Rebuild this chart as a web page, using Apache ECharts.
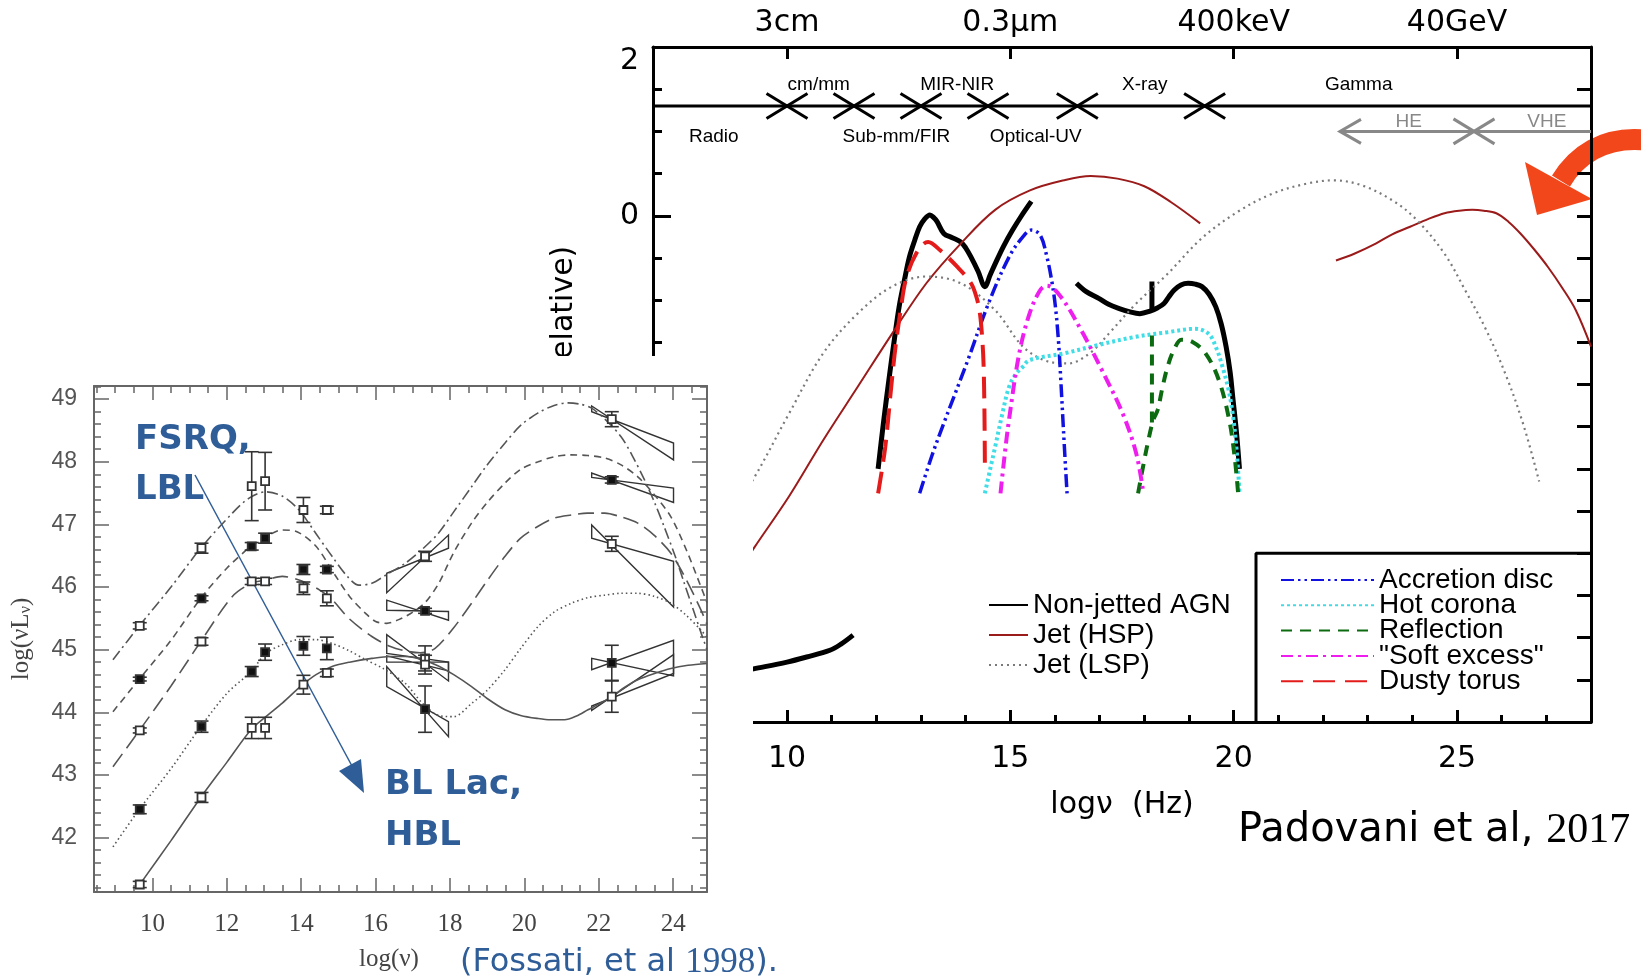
<!DOCTYPE html>
<html>
<head>
<meta charset="utf-8">
<title>AGN SEDs</title>
<script src="https://cdn.jsdelivr.net/npm/echarts@6/dist/echarts.min.js"></script>
<style>
  html, body { margin: 0; padding: 0; background: #fff; }
  #sed, #blazar { position: absolute; left: 0; top: 0; width: 1641px; height: 977px; }
  #mask { position: absolute; left: 0; top: 356px; width: 753px; height: 621px; background: #fff; }
</style>
</head>
<body>
<div id="sed"></div>
<div id="mask"></div>
<div id="blazar"></div>
<script>
// ---------- Main SED panel: log nu (Hz) vs log nu L_nu (relative) ----------
const sedXLabels = [10, 15, 20, 25];
const sedTopLabels = ['3cm', '0.3\u03bcm', '400keV', '40GeV'];
const sedYLabels = [2, 0, -2, -4, -6];

// non-jetted AGN total emission (three pieces + Fe edge)
const agnIR = [[12.04,-3.0],[12.16,-2.45],[12.28,-1.95],[12.4,-1.48],[12.51,-1.08],[12.63,-0.76],[12.74,-0.49],[12.86,-0.29],[12.97,-0.13],[13.08,-0.04],[13.2,0.01],[13.28,-0.02],[13.36,-0.07],[13.51,-0.21],[13.7,-0.26],[13.89,-0.31],[14.0,-0.38],[14.12,-0.49],[14.28,-0.66],[14.43,-0.84],[14.55,-0.7],[14.66,-0.57],[14.85,-0.36],[15.05,-0.17],[15.25,0.0],[15.47,0.17]];
const agnX = [[16.48,-0.8],[16.7,-0.9],[16.98,-0.98],[17.2,-1.05],[17.44,-1.1],[17.68,-1.14],[17.9,-1.16],[18.13,-1.13],[18.3,-1.09],[18.44,-1.04],[18.55,-0.96],[18.67,-0.88],[18.82,-0.82],[18.98,-0.8],[19.14,-0.81],[19.29,-0.84],[19.45,-0.93],[19.6,-1.08],[19.72,-1.28],[19.83,-1.55],[19.92,-1.85],[19.98,-2.15],[20.06,-2.55],[20.13,-3.0]];
const agnRadio = [[8.5,-5.45],[9.25,-5.37],[10.0,-5.29],[10.44,-5.23],[10.96,-5.15],[11.2,-5.08],[11.48,-4.97]];
const agnEdge = [[18.17,-1.13],[18.17,-0.78]];

// jetted sources
const hspSync = [[7.6,-5.25],[8.5,-4.55],[9.27,-3.93],[10.04,-3.33],[10.81,-2.66],[11.58,-2.03],[12.35,-1.4],[13.12,-0.8],[13.89,-0.33],[14.66,0.07],[15.44,0.3],[16.2,0.42],[16.8,0.47],[17.4,0.44],[18.0,0.35],[18.6,0.16],[19.25,-0.09]];
const hspIC = [[22.29,-0.53],[22.7,-0.45],[23.18,-0.33],[23.55,-0.22],[23.95,-0.13],[24.35,-0.04],[24.72,0.03],[25.05,0.06],[25.34,0.07],[25.6,0.06],[25.88,0.03],[26.15,-0.07],[26.42,-0.21],[26.73,-0.4],[27.04,-0.61],[27.35,-0.85],[27.66,-1.12],[28.0,-1.55]];
const lsp = [[8.5,-3.75],[9.27,-3.1],[10.04,-2.35],[10.81,-1.63],[11.58,-1.16],[12.35,-0.84],[13.12,-0.72],[13.89,-0.8],[14.66,-1.12],[15.28,-1.55],[15.8,-1.72],[16.3,-1.75],[16.8,-1.62],[17.2,-1.4],[17.8,-1.05],[18.5,-0.7],[19.3,-0.26],[20.1,0.05],[20.86,0.26],[21.63,0.38],[22.25,0.42],[22.87,0.36],[23.56,0.18],[24.1,-0.05],[24.72,-0.45],[25.18,-0.88],[25.65,-1.35],[26.11,-1.91],[26.5,-2.5],[26.84,-3.15]];

// AGN components
const disc = [[12.97,-3.29],[13.24,-2.85],[13.51,-2.46],[14.05,-1.71],[14.51,-1.04],[14.97,-0.49],[15.28,-0.25],[15.47,-0.17],[15.67,-0.23],[15.82,-0.49],[15.93,-0.78],[16.01,-1.08],[16.08,-1.5],[16.13,-1.95],[16.21,-2.74],[16.27,-3.29]];
const corona = [[14.43,-3.29],[14.55,-3.0],[14.66,-2.74],[14.82,-2.35],[14.97,-2.03],[15.12,-1.88],[15.28,-1.79],[15.43,-1.71],[16.21,-1.63],[16.98,-1.53],[17.75,-1.44],[18.52,-1.38],[19.13,-1.34],[19.44,-1.4],[19.62,-1.58],[19.75,-1.79],[19.88,-2.05],[19.98,-2.35],[20.07,-2.8],[20.13,-3.29]];
const reflection = [[17.86,-3.29],[17.98,-2.95],[18.09,-2.66],[18.2,-2.42],[18.3,-2.3],[18.4,-2.05],[18.52,-1.79],[18.67,-1.58],[18.83,-1.47],[19.06,-1.49],[19.37,-1.63],[19.67,-1.95],[19.9,-2.42],[20.02,-2.85],[20.1,-3.29]];
const reflEdge = [[18.17,-2.45],[18.17,-1.4]];
const softExcess = [[14.78,-3.29],[14.87,-2.85],[14.97,-2.42],[15.2,-1.63],[15.43,-1.16],[15.67,-0.88],[15.82,-0.83],[16.13,-0.96],[16.59,-1.36],[17.05,-1.83],[17.52,-2.35],[17.82,-2.82],[17.98,-3.29]];
const torus = [[12.04,-3.29],[12.2,-2.74],[12.32,-2.1],[12.43,-1.55],[12.55,-1.1],[12.66,-0.76],[12.89,-0.45],[13.16,-0.31],[13.43,-0.41],[13.82,-0.61],[14.12,-0.8],[14.25,-0.98],[14.32,-1.16],[14.37,-1.45],[14.4,-1.75],[14.42,-2.3],[14.43,-2.94]];

// wavebands along the top
const bandLevel = 1.3;
const bandBreaks = [10, 11.5, 13, 14.5, 16.5, 19.35];
const bandNames = [['Radio',8.36,0.94],['cm/mm',10.71,1.55],['Sub-mm/FIR',12.45,0.94],['MIR-NIR',13.81,1.55],['Optical-UV',15.57,0.94],['X-ray',18.01,1.55],['Gamma',22.8,1.55]];
const gammaLevel = 1.0;
const gammaStart = 22.38;
const gammaBreak = 25.38;
const gammaNames = [['HE',23.92,1.11],['VHE',27.01,1.11]];
const legendBox = [[20.5,-6],[20.5,-4],[28,-4]];

// ---------- Inset: blazar sequence ----------
const nuBands = [9.66, 11.32, 12.67, 13.03, 14.06, 14.69, 17.33, 22.35];
const lumBin1 = [45.38, 46.62, 47.61, 47.69, 47.23, 47.23, 46.49, 48.68];
const lumBin2 = [44.53, 45.82, 46.65, 46.78, 46.28, 46.28, 45.62, 47.71];
const lumBin3 = [43.71, 45.13, 46.09, 46.09, 45.98, 45.82, 44.86, 46.69];
const lumBin4 = [42.45, 43.77, 44.65, 44.96, 45.06, 45.02, 44.05, 44.79];
const lumBin5 = [41.25, 42.64, 43.75, 43.75, 44.44, 44.63, 44.76, 44.25];
const errBin1 = [0.05, 0.08, 0.55, 0.46, 0.2, 0.06, 0.08, 0.12];
const errBin2 = [0.03, 0.04, 0.06, 0.08, 0.08, 0.05, 0.04, 0.05];
const errBin3 = [0.04, 0.06, 0.05, 0.05, 0.1, 0.12, 0.2, 0.12];
const errBin4 = [0.07, 0.09, 0.08, 0.13, 0.15, 0.18, 0.37, 0.28];
const errBin5 = [0.05, 0.08, 0.17, 0.17, 0.15, 0.06, 0.15, 0.25];
const filledBin = [0, 1, 0, 1, 0];

// spectral-slope bow ties: [x left, x right, left low, left high, right low, right high]
const xrayBows = [[16.3,17.96,45.91,46.22,46.62,46.83],[16.3,17.96,45.63,45.79,45.47,45.61],[16.3,17.96,44.94,45.24,44.50,44.80],[16.3,17.96,44.41,44.73,43.61,43.85],[16.3,17.96,44.80,44.90,44.66,44.80]];
const gammaBows = [[21.81,24.01,48.80,48.89,48.03,48.30],[21.81,24.01,47.75,47.82,47.35,47.58],[21.81,24.01,46.78,46.99,45.68,46.41],[21.81,24.01,44.68,44.86,44.58,45.15],[21.81,24.01,44.03,44.10,44.62,44.92]];

// model SEDs for the five luminosity bins
const sedBin1 = [[8.94,44.84],[9.65,45.38],[10.5,46.0],[11.3,46.62],[12.15,47.18],[12.6,47.42],[13.05,47.52],[13.5,47.45],[13.94,47.23],[14.4,46.85],[14.83,46.49],[15.24,46.17],[15.55,46.03],[15.9,46.06],[16.3,46.2],[16.8,46.38],[17.25,46.6],[17.69,46.86],[18.1,47.2],[18.58,47.6],[19.0,47.95],[19.48,48.3],[19.9,48.58],[20.37,48.78],[20.8,48.9],[21.17,48.94],[21.5,48.92],[21.8,48.86],[22.2,48.66],[22.6,48.4],[22.9,48.1],[23.23,47.71],[23.5,47.35],[23.76,46.96],[24.05,46.5],[24.3,46.06],[24.55,45.62],[24.79,45.2],[24.91,45.0]];
const sedBin2 = [[8.94,44.01],[9.65,44.53],[10.5,45.15],[11.3,45.82],[12.0,46.3],[12.65,46.65],[13.1,46.82],[13.49,46.91],[13.9,46.88],[14.4,46.65],[14.9,46.2],[15.3,45.85],[15.73,45.58],[16.0,45.45],[16.3,45.42],[16.7,45.5],[17.0,45.6],[17.33,45.75],[17.69,46.05],[18.1,46.55],[18.58,47.02],[19.0,47.35],[19.48,47.66],[19.9,47.88],[20.37,48.0],[20.8,48.08],[21.26,48.11],[21.7,48.1],[22.16,48.06],[22.6,47.95],[23.05,47.76],[23.5,47.47],[23.94,47.12],[24.35,46.6],[24.75,46.0],[24.91,45.75]];
const sedBin3 = [[8.94,43.13],[9.65,43.71],[10.5,44.42],[11.3,45.13],[12.15,45.85],[12.66,46.06],[13.1,46.12],[13.49,46.17],[14.0,46.1],[14.5,45.95],[14.83,45.8],[15.28,45.5],[15.9,45.21],[16.4,45.05],[16.8,44.98],[17.2,44.95],[17.6,45.02],[18.1,45.35],[18.58,45.74],[19.0,46.1],[19.48,46.49],[19.9,46.78],[20.37,46.97],[20.8,47.1],[21.26,47.15],[21.7,47.18],[22.16,47.18],[22.6,47.12],[23.05,47.02],[23.5,46.82],[23.94,46.54],[24.35,46.12],[24.75,45.63],[24.91,45.4]];
const sedBin4 = [[8.94,41.85],[9.65,42.45],[10.5,43.1],[11.3,43.77],[12.0,44.3],[12.65,44.65],[13.05,44.94],[13.5,45.08],[13.94,45.16],[14.4,45.16],[14.83,45.1],[15.3,44.98],[15.73,44.84],[16.2,44.7],[16.8,44.46],[17.25,44.15],[17.69,43.95],[18.1,43.93],[18.58,44.14],[19.0,44.35],[19.48,44.68],[19.9,45.02],[20.37,45.37],[20.8,45.6],[21.26,45.74],[21.7,45.83],[22.16,45.87],[22.6,45.9],[23.05,45.9],[23.5,45.85],[23.94,45.74],[24.35,45.55],[24.75,45.31],[24.91,45.2]];
const sedBin5 = [[9.6,41.2],[10.5,41.95],[11.3,42.64],[12.0,43.2],[12.65,43.72],[13.05,43.93],[13.5,44.15],[14.0,44.42],[14.4,44.6],[14.83,44.73],[15.3,44.8],[15.9,44.86],[16.4,44.89],[16.8,44.89],[17.25,44.84],[17.69,44.74],[18.1,44.6],[18.58,44.41],[19.0,44.22],[19.48,44.04],[19.9,43.95],[20.37,43.9],[20.7,43.88],[21.08,43.88],[21.4,43.94],[21.71,44.04],[22.0,44.13],[22.35,44.25],[22.7,44.4],[23.05,44.52],[23.5,44.62],[23.94,44.7],[24.4,44.75],[24.91,44.78]];

const insetXLabels = [10, 12, 14, 16, 18, 20, 22, 24];
const insetYLabels = [42, 43, 44, 45, 46, 47, 48, 49];

// ---------- helpers ----------
function steps(a, b, s, skip) {
  const out = [];
  for (let v = a; v <= b + 1e-9; v += s) {
    const r = +v.toFixed(2);
    if (!skip || skip.indexOf(r) < 0) out.push(r);
  }
  return out;
}
const SANS = 'DejaVu Sans';
const HELV = 'Liberation Sans';
const SERIF = 'Liberation Serif';

function curve(name, data, color, width, type, smooth) {
  return {
    name, type: 'line', data, symbol: 'none', smooth: smooth === undefined ? 0.35 : smooth,
    lineStyle: { color, width, type: type || 'solid', cap: 'butt' },
    itemStyle: { color }, silent: true, animation: false
  };
}

// ---------- main SED chart ----------
const sed = echarts.init(document.getElementById('sed'));
const breakRender = (params, api) => {
  const p = api.coord([api.value(0), api.value(1)]);
  const w = 20.5, h = 12.5, c = api.value(2) ? '#888' : '#000';
  return { type: 'group', children: [
    { type: 'line', shape: { x1: p[0] - w, y1: p[1] - h, x2: p[0] + w, y2: p[1] + h }, style: { stroke: c, lineWidth: 3 } },
    { type: 'line', shape: { x1: p[0] - w, y1: p[1] + h, x2: p[0] + w, y2: p[1] - h }, style: { stroke: c, lineWidth: 3 } }
  ]};
};
const labelRender = (font, color) => (params, api) => {
  const p = api.coord([api.value(1), api.value(2)]);
  return { type: 'text', x: p[0], y: p[1], style: {
    text: api.value(0), fontSize: font, fontFamily: HELV, fill: color,
    align: 'center', verticalAlign: 'middle', textAlign: 'center', textVerticalAlign: 'middle' } };
};
const blackLine = { onZero: false, lineStyle: { color: '#000', width: 3 } };
const blackTick = { color: '#000', width: 3 };

sed.setOption({
  animation: false,
  grid: { left: 653, top: 47, width: 938, height: 675, containLabel: false, outerBoundsMode: 'none' },
  xAxis: [
    { type: 'value', min: 7, max: 28, position: 'bottom', axisLine: blackLine,
      axisTick: { inside: true, length: 12, customValues: sedXLabels, lineStyle: blackTick },
      axisLabel: { customValues: sedXLabels, fontSize: 30, fontFamily: SANS, color: '#000', margin: 22 },
      splitLine: { show: false },
      name: 'log\u03bd  (Hz)', nameLocation: 'middle', nameGap: 68,
      nameTextStyle: { fontSize: 30, fontFamily: SANS, color: '#000' } },
    { type: 'value', min: 7, max: 28, position: 'bottom', axisLine: { show: false, onZero: false },
      axisTick: { inside: true, length: 7, customValues: steps(8, 27, 1, sedXLabels), lineStyle: blackTick },
      axisLabel: { show: false }, splitLine: { show: false } },
    { type: 'value', min: 7, max: 28, position: 'top', axisLine: blackLine,
      axisTick: { inside: true, length: 12, customValues: sedXLabels, lineStyle: blackTick },
      axisLabel: { customValues: sedXLabels, fontSize: 30, fontFamily: SANS, color: '#000', margin: 9,
        formatter: v => sedTopLabels[sedXLabels.indexOf(v)] },
      splitLine: { show: false } }
  ],
  yAxis: [
    { type: 'value', min: -6, max: 2, position: 'left', axisLine: blackLine,
      axisTick: { inside: true, length: 18, customValues: sedYLabels, lineStyle: blackTick },
      axisLabel: { customValues: sedYLabels, fontSize: 30, fontFamily: SANS, color: '#000', margin: 14,
        formatter: v => v === 2 ? '{lo|2}' : String(v),
        rich: { lo: { fontSize: 30, fontFamily: SANS, color: '#000', padding: [28, 0, 0, 0] } } },
      splitLine: { show: false },
      name: 'log \u03bdL\u03bd (relative)', nameLocation: 'middle', nameGap: 74, nameRotate: 90,
      nameTextStyle: { fontSize: 30, fontFamily: SANS, color: '#000', padding: [0, 0, 0, 26] } },
    { type: 'value', min: -6, max: 2, position: 'left', axisLine: { show: false, onZero: false },
      axisTick: { inside: true, length: 9, customValues: steps(-5.5, 1.5, 0.5, sedYLabels), lineStyle: blackTick },
      axisLabel: { show: false }, splitLine: { show: false } },
    { type: 'value', min: -6, max: 2, position: 'right', axisLine: blackLine,
      axisTick: { inside: true, length: 14, customValues: steps(-6, 2, 0.5), lineStyle: blackTick },
      axisLabel: { show: false }, splitLine: { show: false } }
  ],
  legend: [
    { data: ['Non-jetted AGN', 'Jet (HSP)', 'Jet (LSP)'], orient: 'vertical', left: 983, top: 586,
      itemWidth: 39, itemHeight: 14, itemGap: 2, selectedMode: false,
      itemStyle: { opacity: 0 },
      textStyle: { fontSize: 28, fontFamily: HELV, color: '#000', lineHeight: 28 } },
    { data: ['Accretion disc', 'Hot corona', 'Reflection', '"Soft excess"', 'Dusty torus'], orient: 'vertical', left: 1275, top: 561,
      itemWidth: 93, itemHeight: 12, itemGap: -2.7, selectedMode: false,
      itemStyle: { opacity: 0 },
      textStyle: { fontSize: 28, fontFamily: HELV, color: '#000', lineHeight: 24 } }
  ],
  series: [
    curve('Non-jetted AGN', agnIR, '#000', 5),
    curve('Non-jetted AGN', agnX, '#000', 5),
    curve('Non-jetted AGN', agnRadio, '#000', 5),
    curve('Non-jetted AGN', agnEdge, '#000', 5, 'solid', false),
    curve('Jet (HSP)', hspSync, '#9b1b1b', 2),
    curve('Jet (HSP)', hspIC, '#9b1b1b', 2),
    curve('Jet (LSP)', lsp, '#7a7a7a', 2.2, [2, 4]),
    curve('Accretion disc', disc, '#1212e0', 3.5, [13, 4, 2.5, 4, 2.5, 4]),
    curve('Hot corona', corona, '#3fdde6', 4, [3, 3]),
    curve('Reflection', reflection, '#0c6a10', 4, [11, 8]),
    curve('Reflection', reflEdge, '#0c6a10', 4, [11, 8], false),
    curve('"Soft excess"', softExcess, '#ee1fee', 4, [12, 5, 3, 5]),
    curve('Dusty torus', torus, '#e41b1b', 4, [22, 10]),
    curve('bands', [[7, bandLevel], [28, bandLevel]], '#000', 3, 'solid', false),
    curve('gamma sub-bands', [[gammaStart, gammaLevel], [28, gammaLevel]], '#888', 3, 'solid', false),
    curve('legend frame', legendBox, '#000', 3, 'solid', false),
    { type: 'custom', name: 'band breaks', silent: true, renderItem: breakRender,
      data: bandBreaks.map(b => [b, bandLevel, 0]).concat([[gammaBreak, gammaLevel, 1]]) },
    { type: 'custom', name: 'gamma arrow', silent: true, data: [[gammaStart, gammaLevel]],
      renderItem: (params, api) => {
        const p = api.coord([api.value(0), api.value(1)]);
        return { type: 'polyline', shape: { points: [[p[0] + 21, p[1] - 12], [p[0], p[1]], [p[0] + 21, p[1] + 12]] },
          style: { stroke: '#888', lineWidth: 3, fill: null } };
      } },
    { type: 'custom', name: 'band names', silent: true, renderItem: labelRender(19, '#000'),
      dimensions: ['label', 'x', 'y'], encode: { x: 1, y: 2 }, data: bandNames },
    { type: 'custom', name: 'gamma names', silent: true, renderItem: labelRender(19, '#888'),
      dimensions: ['label', 'x', 'y'], encode: { x: 1, y: 2 }, data: gammaNames }
  ],
  graphic: [
    { type: 'text', left: 1238, top: 810, silent: true,
      style: { text: '{a|Padovani et al, }{b|2017}',
        rich: { a: { fontSize: 40, fontFamily: SANS, fill: '#000' }, b: { fontSize: 42, fontFamily: SERIF, fill: '#000' } } } },
    { type: 'bezierCurve', silent: true,
      shape: { x1: 1645, y1: 140, cpx1: 1603, cpy1: 136, cpx2: 1576, cpy2: 156, x2: 1561, y2: 181 },
      style: { stroke: '#f2461b', lineWidth: 21, fill: null } },
    { type: 'polygon', silent: true,
      shape: { points: [[1525, 162], [1592, 199], [1537, 215]] },
      style: { fill: '#f2461b' } }
  ]
});

// ---------- inset chart ----------
const blazar = echarts.init(document.getElementById('blazar'));
const bins = [lumBin1, lumBin2, lumBin3, lumBin4, lumBin5];
const errs = [errBin1, errBin2, errBin3, errBin4, errBin5];
const pointData = [];
bins.forEach((row, i) => row.forEach((y, j) => pointData.push([nuBands[j], y, errs[i][j], filledBin[i]])));

const INK = '#333';
const LINE = '#555';
const pointRender = (params, api) => {
  const x = api.value(0), y = api.value(1), e = api.value(2), filled = api.value(3);
  const c = api.coord([x, y]);
  const t = api.coord([x, y + e])[1], b = api.coord([x, y - e])[1];
  const cap = 7, s = 4;
  const ls = { stroke: INK, lineWidth: 1.6 };
  return { type: 'group', children: [
    { type: 'line', shape: { x1: c[0], y1: t, x2: c[0], y2: b }, style: ls },
    { type: 'line', shape: { x1: c[0] - cap, y1: t, x2: c[0] + cap, y2: t }, style: ls },
    { type: 'line', shape: { x1: c[0] - cap, y1: b, x2: c[0] + cap, y2: b }, style: ls },
    { type: 'rect', shape: { x: c[0] - s, y: c[1] - s, width: 2 * s, height: 2 * s },
      style: { fill: filled ? '#111' : '#fff', stroke: INK, lineWidth: 1.8 } }
  ]};
};
const bowRender = (params, api) => {
  const xl = api.value(0), xr = api.value(1);
  const pts = [api.coord([xl, api.value(3)]), api.coord([xl, api.value(2)]),
               api.coord([xr, api.value(5)]), api.coord([xr, api.value(4)])];
  return { type: 'polygon', shape: { points: pts }, style: { fill: null, stroke: INK, lineWidth: 1.4 } };
};
const insetAxisLine = { onZero: false, lineStyle: { color: '#666', width: 2 } };
const tickStyle = { color: '#666', width: 1.5 };

blazar.setOption({
  animation: false,
  grid: { left: 94, top: 386, width: 613, height: 506, containLabel: false, outerBoundsMode: 'none' },
  xAxis: [
    { type: 'value', min: 8.43, max: 24.91, position: 'bottom', axisLine: insetAxisLine,
      axisTick: { inside: true, length: 14, customValues: insetXLabels, lineStyle: tickStyle },
      axisLabel: { customValues: insetXLabels, fontSize: 25, fontFamily: SERIF, color: '#444', margin: 20 },
      splitLine: { show: false } },
    { type: 'value', min: 8.43, max: 24.91, position: 'bottom', axisLine: { show: false, onZero: false },
      axisTick: { inside: true, length: 7, customValues: steps(8.5, 24.5, 0.5, insetXLabels), lineStyle: tickStyle },
      axisLabel: { show: false }, splitLine: { show: false } },
    { type: 'value', min: 8.43, max: 24.91, position: 'top', axisLine: insetAxisLine,
      axisTick: { inside: true, length: 14, customValues: insetXLabels, lineStyle: tickStyle },
      axisLabel: { show: false }, splitLine: { show: false } },
    { type: 'value', min: 8.43, max: 24.91, position: 'top', axisLine: { show: false, onZero: false },
      axisTick: { inside: true, length: 7, customValues: steps(8.5, 24.5, 0.5, insetXLabels), lineStyle: tickStyle },
      axisLabel: { show: false }, splitLine: { show: false } }
  ],
  yAxis: [
    { type: 'value', min: 41.13, max: 49.21, position: 'left', axisLine: insetAxisLine,
      axisTick: { inside: true, length: 15, customValues: insetYLabels, lineStyle: tickStyle },
      axisLabel: { customValues: insetYLabels, fontSize: 23, fontFamily: HELV, color: '#555', margin: 17 },
      splitLine: { show: false },
      name: '{a|log(\u03bdL}{s|\u03bd}{a|)}', nameLocation: 'middle', nameGap: 60, nameRotate: 90,
      nameTextStyle: { rich: { a: { fontSize: 25, fontFamily: SERIF, color: '#444' },
                               s: { fontSize: 16, fontFamily: SERIF, color: '#444', padding: [10, 0, 0, 0] } } } },
    { type: 'value', min: 41.13, max: 49.21, position: 'left', axisLine: { show: false, onZero: false },
      axisTick: { inside: true, length: 7, customValues: steps(41.2, 49.2, 0.2, insetYLabels), lineStyle: tickStyle },
      axisLabel: { show: false }, splitLine: { show: false } },
    { type: 'value', min: 41.13, max: 49.21, position: 'right', axisLine: insetAxisLine,
      axisTick: { inside: true, length: 15, customValues: insetYLabels, lineStyle: tickStyle },
      axisLabel: { show: false }, splitLine: { show: false } },
    { type: 'value', min: 41.13, max: 49.21, position: 'right', axisLine: { show: false, onZero: false },
      axisTick: { inside: true, length: 7, customValues: steps(41.2, 49.2, 0.2, insetYLabels), lineStyle: tickStyle },
      axisLabel: { show: false }, splitLine: { show: false } }
  ],
  series: [
    curve('bin 1', sedBin1, LINE, 1.6, [11, 4, 2, 4], 0.3),
    curve('bin 2', sedBin2, LINE, 1.6, [7, 5], 0.3),
    curve('bin 3', sedBin3, LINE, 1.6, [16, 7], 0.3),
    curve('bin 4', sedBin4, LINE, 1.6, [1.5, 3], 0.3),
    curve('bin 5', sedBin5, LINE, 1.6, 'solid', 0.3),
    { type: 'custom', name: 'X-ray slopes', silent: true, renderItem: bowRender, data: xrayBows, z: 3 },
    { type: 'custom', name: 'gamma slopes', silent: true, renderItem: bowRender, data: gammaBows, z: 3 },
    { type: 'custom', name: 'band luminosities', silent: true, renderItem: pointRender, data: pointData, z: 4 }
  ],
  graphic: [
    { type: 'text', left: 359, top: 947, silent: true,
      style: { text: 'log(\u03bd)', fontSize: 25, fontFamily: SERIF, fill: '#444' } },
    { type: 'text', left: 460, top: 945, silent: true,
      style: { text: '{a|(Fossati, et al }{b|1998}{a|).}',
        rich: { a: { fontSize: 32, fontFamily: SANS, fill: '#2f5d98' }, b: { fontSize: 35, fontFamily: SERIF, fill: '#2f5d98' } } } },
    { type: 'text', left: 135, top: 415, silent: true,
      style: { text: 'FSRQ,\nLBL', fontSize: 34, fontWeight: 'bold', fontFamily: SANS, fill: '#2f5d98', lineHeight: 50 } },
    { type: 'text', left: 385, top: 760, silent: true,
      style: { text: 'BL Lac,\nHBL', fontSize: 34, fontWeight: 'bold', fontFamily: SANS, fill: '#2f5d98', lineHeight: 51 } },
    { type: 'line', silent: true, shape: { x1: 195, y1: 475, x2: 352, y2: 766 },
      style: { stroke: '#2f5d98', lineWidth: 1.5 } },
    { type: 'polygon', silent: true, shape: { points: [[364, 793], [339, 771], [361, 759]] },
      style: { fill: '#2f5d98' } }
  ]
});
</script>
</body>
</html>
